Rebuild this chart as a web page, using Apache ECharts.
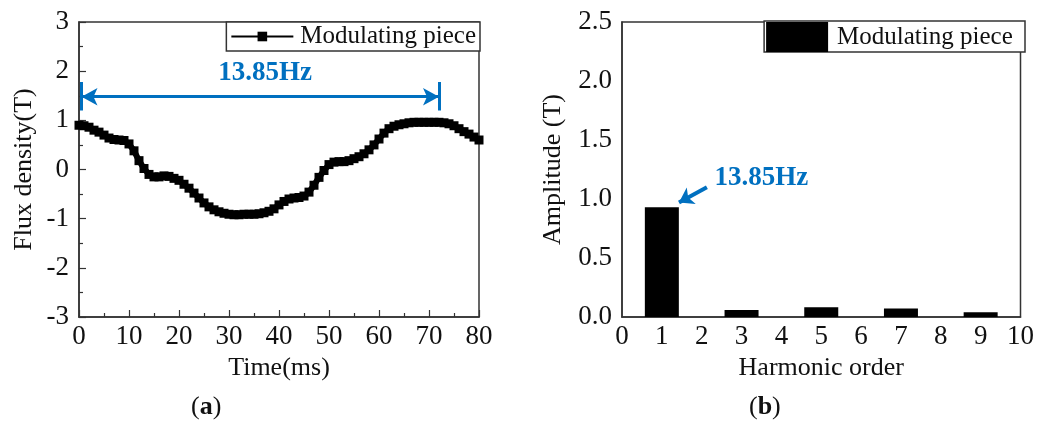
<!DOCTYPE html>
<html><head><meta charset="utf-8">
<script src="https://cdn.jsdelivr.net/npm/echarts@6/dist/echarts.min.js"></script>
<style>html,body{margin:0;padding:0;background:#fff}#c{width:1037px;height:425px}</style>
</head><body><div id="c"></div>
<script>
// ---- data ----
const timeMs = [0,1,2,3,4,5,6,7,8,9,10,11,12,13,14,15,16,17,18,19,20,21,22,23,24,25,26,27,28,29,30,31,32,33,34,35,36,37,38,39,40,41,42,43,44,45,46,47,48,49,50,51,52,53,54,55,56,57,58,59,60,61,62,63,64,65,66,67,68,69,70,71,72,73,74,75,76,77,78,79,80];
const fluxDensity = [0.90,0.89,0.86,0.80,0.76,0.70,0.64,0.61,0.60,0.59,0.52,0.38,0.18,0.02,-0.10,-0.15,-0.15,-0.13,-0.14,-0.18,-0.22,-0.30,-0.38,-0.48,-0.58,-0.68,-0.76,-0.82,-0.86,-0.89,-0.91,-0.92,-0.92,-0.91,-0.91,-0.91,-0.90,-0.88,-0.85,-0.80,-0.72,-0.65,-0.60,-0.58,-0.57,-0.54,-0.46,-0.32,-0.16,-0.02,0.10,0.15,0.16,0.16,0.18,0.22,0.26,0.32,0.40,0.50,0.62,0.74,0.83,0.88,0.91,0.93,0.95,0.96,0.96,0.96,0.96,0.96,0.96,0.95,0.93,0.89,0.83,0.77,0.72,0.66,0.60];
const harmonicOrder = [1,3,5,7,9];
const amplitude = [0.93,0.059,0.082,0.073,0.040];
const seriesName = 'Modulating piece';
const freqLabel = '13.85Hz';
// annotation anchors in data units
const periodArrow = {x0:0.5, x1:72, y:1.48, barLo:1.2, barHi:1.78, textX:37.2, textY:1.96};
const peakArrow = {fromX:2.13, fromY:1.10, toX:1.43, toY:0.97, textX:3.5, textY:1.18};

const FONT = 'Liberation Serif';
const BLUE = '#0070C0';
const AX = '#333';

const chart = echarts.init(document.getElementById('c'), null, {renderer:'canvas'});
const lineData = timeMs.map((t,i)=>[t, fluxDensity[i]]);
const barData = harmonicOrder.map((h,i)=>[h, amplitude[i]]);

const axisBase = {
  axisLine:{show:true, onZero:false, lineStyle:{color:AX, width:1.5}},
  splitLine:{show:false},
  axisLabel:{fontFamily:FONT, fontSize:27, color:'#111'},
  nameTextStyle:{fontFamily:FONT, fontSize:26, color:'#111'},
  nameLocation:'middle'
};

chart.setOption({
  animation:false,
  backgroundColor:'#fff',
  grid:[
    {left:79, top:22, width:400, height:295, show:true, borderColor:AX, borderWidth:1.5, backgroundColor:'transparent'},
    {left:622, top:22, width:399, height:295, show:true, borderColor:AX, borderWidth:1.5, backgroundColor:'transparent'}
  ],
  legend:[
    {data:[seriesName], right:557, top:22, orient:'horizontal', padding:[2,4,2,4], borderColor:AX, borderWidth:1.5,
     backgroundColor:'#fff', itemWidth:62, itemHeight:12, itemGap:0,
     textStyle:{fontFamily:FONT, fontSize:25, color:'#111', padding:[0,0,0,2]}, selectedMode:false},
    {data:[{name:seriesName+' ', icon:'rect'}], right:12, top:21, padding:[1,6,0,2], borderColor:AX, borderWidth:1.5,
     backgroundColor:'#fff', itemWidth:62, itemHeight:30, itemGap:0,
     textStyle:{fontFamily:FONT, fontSize:25, color:'#111', padding:[0,0,0,4]}, selectedMode:false}
  ],
  xAxis:[
    Object.assign({}, axisBase, {type:'value', gridIndex:0, min:0, max:80, interval:10,
      axisTick:{show:true, inside:true, length:7, lineStyle:{color:AX, width:1.2}},
      minorTick:{show:true, splitNumber:2, length:4, lineStyle:{color:AX, width:1.2}},
      axisLabel:Object.assign({}, axisBase.axisLabel, {margin:6}),
      name:'Time(ms)', nameGap:36}),
    Object.assign({}, axisBase, {type:'value', gridIndex:1, min:0, max:10, interval:1,
      axisTick:{show:false},
      axisLabel:Object.assign({}, axisBase.axisLabel, {margin:6}),
      name:'Harmonic order', nameGap:36})
  ],
  yAxis:[
    Object.assign({}, axisBase, {type:'value', gridIndex:0, min:-3, max:3, interval:1,
      axisTick:{show:true, inside:true, length:7, lineStyle:{color:AX, width:1.2}},
      minorTick:{show:true, splitNumber:2, length:4, lineStyle:{color:AX, width:1.2}},
      axisLabel:Object.assign({}, axisBase.axisLabel, {margin:10}),
      name:'Flux density(T)', nameGap:42}),
    Object.assign({}, axisBase, {type:'value', gridIndex:1, min:0, max:2.5, interval:0.5,
      axisTick:{show:false},
      axisLabel:Object.assign({}, axisBase.axisLabel, {margin:10, formatter:v=>v.toFixed(1)}),
      name:'Amplitude (T)', nameGap:56})
  ],
  series:[
    {name:seriesName, type:'line', xAxisIndex:0, yAxisIndex:0, data:lineData,
     symbol:'rect', symbolSize:9, showSymbol:true,
     itemStyle:{color:'#000'}, lineStyle:{color:'#000', width:6},
     markLine:{silent:true, animation:false, symbol:['arrow','arrow'], symbolSize:[13,16],
       label:{show:false}, lineStyle:{color:BLUE, width:3, type:'solid'},
       data:[
         [{coord:[periodArrow.x0, periodArrow.y]},{coord:[periodArrow.x1, periodArrow.y]}],
         [{coord:[periodArrow.x0, periodArrow.barLo], symbol:'none'},{coord:[periodArrow.x0, periodArrow.barHi], symbol:'none'}],
         [{coord:[periodArrow.x1, periodArrow.barLo], symbol:'none'},{coord:[periodArrow.x1, periodArrow.barHi], symbol:'none'}]
       ]},
     markPoint:{silent:true, symbol:'circle', symbolSize:0,
       label:{show:true, formatter:freqLabel, color:BLUE, fontFamily:FONT, fontWeight:'bold', fontSize:27, position:'inside'},
       data:[{coord:[periodArrow.textX, periodArrow.textY]}]}
    },
    {name:seriesName+' ', type:'bar', xAxisIndex:1, yAxisIndex:1, data:barData, barWidth:34,
     itemStyle:{color:'#000'},
     markLine:{silent:true, animation:false, symbol:['none','arrow'], symbolSize:[14,14],
       label:{show:false}, lineStyle:{color:BLUE, width:4, type:'solid'},
       data:[[{coord:[peakArrow.fromX, peakArrow.fromY]},{coord:[peakArrow.toX, peakArrow.toY]}]]},
     markPoint:{silent:true, symbol:'circle', symbolSize:0,
       label:{show:true, formatter:freqLabel, color:BLUE, fontFamily:FONT, fontWeight:'bold', fontSize:27, position:'inside'},
       data:[{coord:[peakArrow.textX, peakArrow.textY]}]}
    }
  ],
  graphic:[
    {type:'text', left:191, top:394, style:{text:'{n|(}{b|a}{n|)}', rich:{n:{fontFamily:FONT, fontSize:26, fill:'#111'}, b:{fontFamily:FONT, fontSize:26, fontWeight:'bold', fill:'#111'}}}},
    {type:'text', left:749, top:394, style:{text:'{n|(}{b|b}{n|)}', rich:{n:{fontFamily:FONT, fontSize:26, fill:'#111'}, b:{fontFamily:FONT, fontSize:26, fontWeight:'bold', fill:'#111'}}}}
  ]
});
</script></body></html>
